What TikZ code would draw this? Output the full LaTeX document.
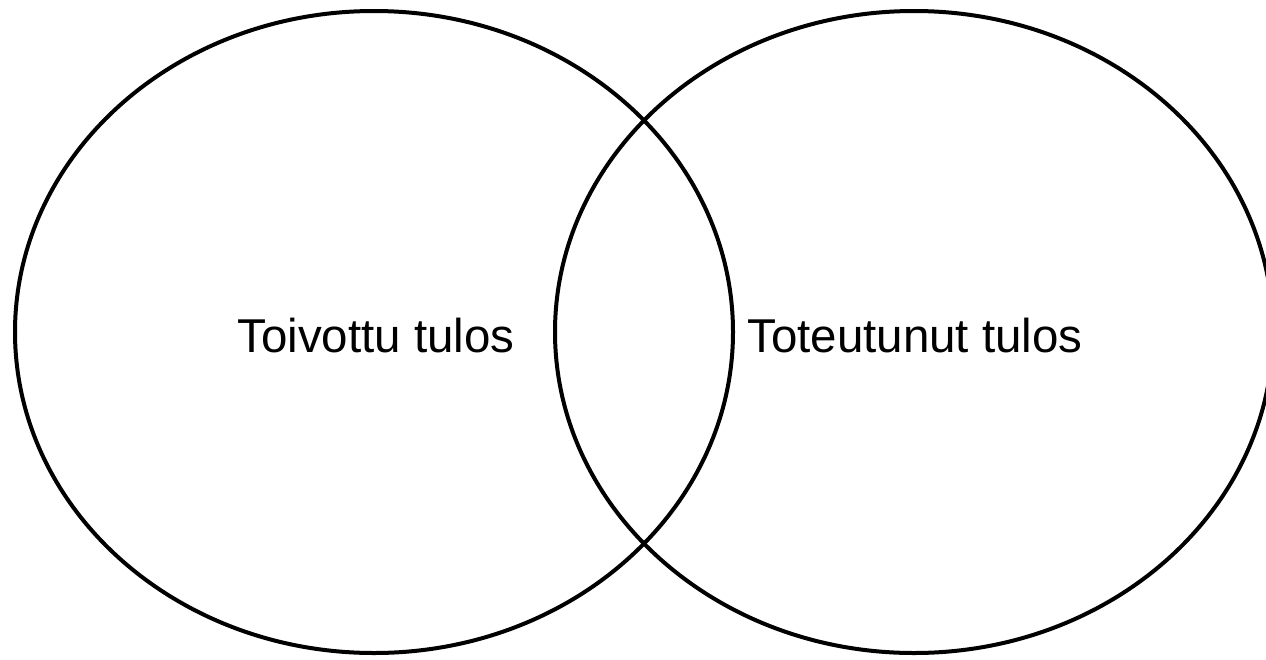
\documentclass[tikz,border=0pt]{standalone}
\usepackage{fontspec}
\setmainfont{Liberation Sans}
\usetikzlibrary{shapes.geometric}
\begin{document}
\begin{tikzpicture}[x=1pt,y=-1pt,
  venn/.style={ellipse, draw=black, line width=4pt, minimum width=718pt, minimum height=642pt, inner sep=0pt},
  lbl/.style={anchor=base, inner sep=0pt, font=\fontsize{47.5}{50}\selectfont}]
\useasboundingbox (0,0) rectangle (1266,659);
\node[venn] (left) at (374,332) {};
\node[venn] (right) at (914,332) {};
\node[lbl] (ltext) at (376,352) {Toivottu tulos};
\node[lbl] (rtext) at (915,352) {Toteutunut tulos};
\end{tikzpicture}
\end{document}
